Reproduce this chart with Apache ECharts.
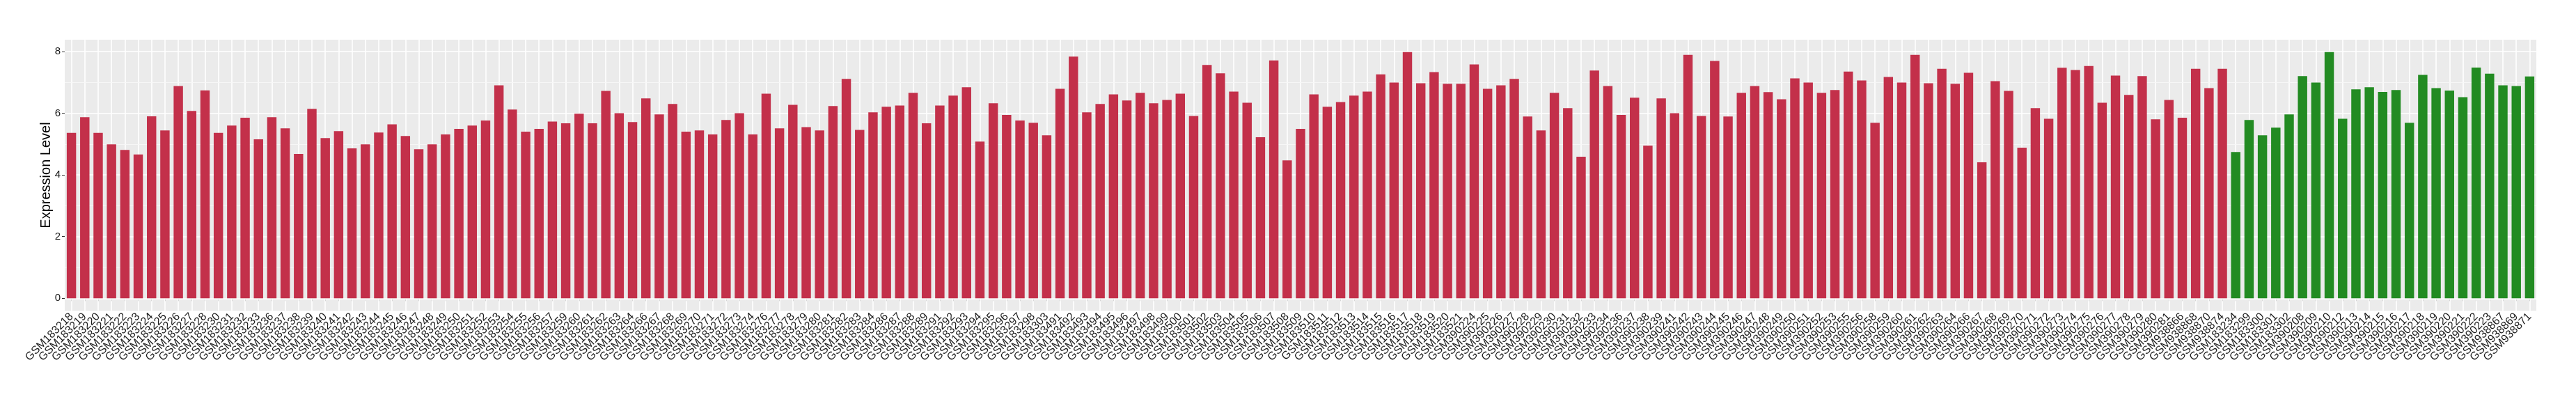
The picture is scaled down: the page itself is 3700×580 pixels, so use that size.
<!DOCTYPE html>
<html>
<head>
<meta charset="utf-8">
<script src="https://cdn.jsdelivr.net/npm/echarts@6/dist/echarts.min.js"></script>
<style>html,body{margin:0;padding:0;background:#fff;}#c{width:3700px;height:580px;}</style>
</head>
<body>
<div id="c"></div>
<script>
const tumorSamples = [
 'GSM183218','GSM183219','GSM183220','GSM183221','GSM183222','GSM183223','GSM183224','GSM183225','GSM183226','GSM183227','GSM183228',
 'GSM183230','GSM183231','GSM183232','GSM183233',
 'GSM183236','GSM183237','GSM183238','GSM183239','GSM183240','GSM183241','GSM183242','GSM183243','GSM183244','GSM183245','GSM183246','GSM183247','GSM183248','GSM183249','GSM183250','GSM183251','GSM183252','GSM183253','GSM183254','GSM183255','GSM183256','GSM183257',
 'GSM183259','GSM183260','GSM183261','GSM183262','GSM183263','GSM183264',
 'GSM183266','GSM183267','GSM183268','GSM183269','GSM183270','GSM183271','GSM183272','GSM183273','GSM183274',
 'GSM183276','GSM183277','GSM183278','GSM183279','GSM183280','GSM183281','GSM183282','GSM183283','GSM183284',
 'GSM183286','GSM183287','GSM183288','GSM183289',
 'GSM183291','GSM183292','GSM183293','GSM183294','GSM183295','GSM183296','GSM183297','GSM183298',
 'GSM183303',
 'GSM183491','GSM183492','GSM183493','GSM183494','GSM183495','GSM183496','GSM183497','GSM183498','GSM183499','GSM183500','GSM183501','GSM183502','GSM183503','GSM183504','GSM183505','GSM183506','GSM183507','GSM183508','GSM183509','GSM183510','GSM183511','GSM183512','GSM183513','GSM183514','GSM183515','GSM183516','GSM183517','GSM183518','GSM183519','GSM183520','GSM183521',
 'GSM390224','GSM390225','GSM390226','GSM390227','GSM390228','GSM390229','GSM390230','GSM390231','GSM390232','GSM390233','GSM390234',
 'GSM390236','GSM390237','GSM390238','GSM390239',
 'GSM390241','GSM390242','GSM390243','GSM390244','GSM390245','GSM390246','GSM390247','GSM390248','GSM390249','GSM390250','GSM390251','GSM390252','GSM390253',
 'GSM390255','GSM390256',
 'GSM390258','GSM390259','GSM390260','GSM390261','GSM390262','GSM390263','GSM390264',
 'GSM390266','GSM390267','GSM390268','GSM390269','GSM390270','GSM390271','GSM390272','GSM390273','GSM390274','GSM390275','GSM390276','GSM390277','GSM390278','GSM390279','GSM390280','GSM390281',
 'GSM938866','GSM938868','GSM938870','GSM938874'
];
const tumorValues = [
 5.36,5.87,5.36,4.99,4.81,4.66,5.90,5.44,6.88,6.07,6.74,
 5.36,5.60,5.85,5.15,
 5.87,5.51,4.68,6.14,5.19,5.42,4.86,4.99,5.37,5.64,5.26,4.83,4.99,5.31,5.49,5.60,5.76,6.90,6.12,5.40,5.49,5.73,
 5.67,5.98,5.67,6.72,6.00,5.71,
 6.48,5.96,6.30,5.40,5.44,5.31,5.78,6.00,5.31,
 6.63,5.51,6.27,5.55,5.44,6.23,7.11,5.46,6.03,
 6.21,6.25,6.66,5.67,
 6.25,6.57,6.84,5.08,6.32,5.94,5.76,5.69,
 5.28,
 6.79,7.83,6.03,6.30,6.61,6.41,6.66,6.32,6.43,6.63,5.91,7.56,7.29,6.70,6.34,5.22,7.71,4.47,5.49,6.61,6.21,6.36,6.57,6.70,7.26,6.99,7.98,6.97,7.33,6.95,6.95,
 7.58,6.79,6.90,7.11,5.89,5.44,6.66,6.16,4.59,7.38,6.88,
 5.94,6.50,4.95,6.48,
 6.00,7.89,5.91,7.69,5.89,6.66,6.88,6.68,6.45,7.13,6.99,6.66,6.75,
 7.35,7.06,
 5.69,7.17,6.99,7.89,6.97,7.44,6.95,
 7.31,4.41,7.04,6.72,4.88,6.16,5.82,7.47,7.40,7.53,6.34,7.22,6.59,7.20,5.80,6.43,
 5.85,7.44,6.81,7.44
];
const normalSamples = [
 'GSM183234','GSM183299','GSM183300','GSM183301','GSM183302',
 'GSM390208','GSM390209','GSM390210','GSM390212','GSM390213','GSM390214','GSM390215','GSM390216','GSM390217','GSM390218','GSM390219','GSM390220','GSM390221','GSM390222','GSM390223',
 'GSM938867','GSM938869','GSM938871'
];
const normalValues = [
 4.74,5.78,5.28,5.53,5.96,
 7.20,6.99,7.98,5.82,6.77,6.84,6.69,6.75,5.69,7.24,6.81,6.73,6.52,7.48,7.28,
 6.90,6.88,7.19
];
const yTickValues = [0,2,4,6,8];
const yMinorValues = [1,3,5,7];

const tumorColor = '#C3304A';
const normalColor = '#228B22';

const categories = tumorSamples.concat(normalSamples);
const barData = tumorValues.map(v => ({value: v, itemStyle: {color: tumorColor}}))
  .concat(normalValues.map(v => ({value: v, itemStyle: {color: normalColor}})));

const gridLines = []
  .concat(categories.map(c => ({xAxis: c, lineStyle: {color: '#FFFFFF', width: 1.6, type: 'solid'}})))
  .concat(yTickValues.map(v => ({yAxis: v, lineStyle: {color: '#FFFFFF', width: 1.6, type: 'solid'}})))
  .concat(yMinorValues.map(v => ({yAxis: v, lineStyle: {color: '#F7F7F7', width: 0.9, type: 'solid'}})));

const chart = echarts.init(document.getElementById('c'), null, {renderer: 'canvas'});
chart.setOption({
  animation: false,
  backgroundColor: '#FFFFFF',
  grid: {left: 93, right: 57, top: 57, bottom: 134, show: true, backgroundColor: '#EBEBEB', borderWidth: 0, z: 0},
  xAxis: {
    type: 'category',
    data: categories,
    boundaryGap: true,
    axisLine: {show: false},
    axisTick: {show: true, alignWithLabel: true, interval: 0, length: 4, lineStyle: {color: '#333333', width: 1}},
    axisLabel: {interval: 0, rotate: 45, margin: 6, fontSize: 16, color: '#1A1A1A', fontFamily: 'Liberation Sans, Arial, sans-serif'},
    splitLine: {show: false}
  },
  yAxis: {
    type: 'value',
    min: -0.399,
    max: 8.38,
    name: 'Expression Level',
    nameLocation: 'middle',
    nameRotate: 90,
    nameGap: 17,
    nameMoveOverlap: false,
    nameTextStyle: {fontSize: 20, color: '#000000', fontFamily: 'Liberation Sans, Arial, sans-serif'},
    axisLine: {show: false},
    axisTick: {show: true, customValues: yTickValues, length: 4, lineStyle: {color: '#333333', width: 1}},
    axisLabel: {customValues: yTickValues, margin: 6, fontSize: 15, color: '#1A1A1A', fontFamily: 'Liberation Sans, Arial, sans-serif'},
    splitLine: {show: false}
  },
  series: [
    {
      type: 'line',
      data: [],
      silent: true,
      z: 1,
      markLine: {silent: true, z: 1, zlevel: 0, symbol: ['none','none'], label: {show: false}, animation: false, data: gridLines}
    },
    {
      type: 'bar',
      data: barData,
      barCategoryGap: '30%',
      z: 10
    }
  ]
});
</script>
</body>
</html>
